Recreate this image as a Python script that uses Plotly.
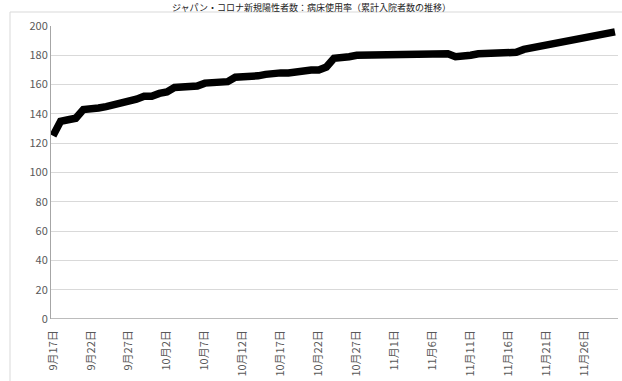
import datetime as dt
import plotly.graph_objects as go

# ---- data ----
start = dt.date(2020, 9, 17)
values = [
    125, 135, 136, 137, 143, 143, 144, 145, 146, 147,   # 9/17 - 9/26
    148, 150, 152, 152, 154, 155, 158, 158, 158, 159,   # 9/27 - 10/6
    161, 161, 162, 162, 165, 165, 165, 166, 167, 168,   # 10/7 - 10/16
    168, 168, 169, 170, 170, 170, 172, 178, 178, 179,   # 10/17 - 10/26
    180, 180, 180, 181, 181, 181, 181, 181, 181, 181,   # 10/27 - 11/5
    181, 181, 181, 179, 179, 180, 181, 181, 181, 181,   # 11/6 - 11/15
    181, 182, 184, 185, 186, 188, 188, 190, 190, 192,   # 11/16 - 11/25
    193, 193, 195, 196, 196,                            # 11/26 - 11/30
]
dates = [start + dt.timedelta(days=i) for i in range(len(values))]
categories = [f"{d.month}月{d.day}日" for d in dates]
tick_idx = list(range(0, len(values), 5))
tick_labels = [categories[i] for i in tick_idx]
y_ticks = [0, 20, 40, 60, 80, 100, 120, 140, 160, 180, 200]
title_text = "ジャパン・コロナ新規陽性者数：病床使用率（累計入院者数の推移）"

W, H = 622, 381
L, R, T, B = 51, 4, 26, 62
pw, ph = W - L - R, H - T - B

fig = go.Figure()
fig.add_trace(go.Scatter(
    x=list(range(len(values))), y=values, mode="lines",
    line=dict(color="#000000", width=7.5),
    hoverinfo="skip", showlegend=False,
))

fig.update_layout(
    width=W, height=H,
    margin=dict(l=L, r=R, t=T, b=B, autoexpand=False),
    paper_bgcolor="white", plot_bgcolor="white",
    font=dict(family="Noto Sans CJK JP", size=11, color="#595959"),
    xaxis=dict(
        range=[-0.26, len(values) - 1 + 0.4],
        tickmode="array", tickvals=tick_idx, ticktext=tick_labels,
        tickangle=-90, showgrid=False, zeroline=False,
        showline=False, ticks="", ticklabelstandoff=8,
        tickfont=dict(size=11), automargin=False,
    ),
    yaxis=dict(
        range=[0, 200], tickmode="array", tickvals=y_ticks,
        showgrid=True, gridcolor="#d9d9d9", gridwidth=1,
        zeroline=False, showline=True, linecolor="#a6a6a6", linewidth=1,
        ticks="", tickfont=dict(size=11), automargin=False,
    ),
)

# x axis line at y=0
fig.add_shape(type="line", xref="paper", yref="y", x0=0, x1=1, y0=0, y1=0,
              line=dict(color="#a6a6a6", width=1.5))

# outer chart-area border
bx0 = (10 - L) / pw
by1 = 1 + (T - 12) / ph
fig.add_shape(type="rect", xref="paper", yref="paper",
              x0=bx0, x1=1 + (R + 5) / pw, y0=-(B + 10) / ph, y1=by1,
              line=dict(color="#d9d9d9", width=1), layer="below")

# title (small, in the strip above the chart border)
fig.add_annotation(
    text=title_text, xref="paper", yref="paper",
    x=(W / 2 - L) / pw, y=1 + (T - 0) / ph,
    xanchor="center", yanchor="top", showarrow=False, borderpad=0,
    font=dict(size=9, color="#222222", family="Noto Sans CJK JP"),
)

fig.write_html("out.html")
